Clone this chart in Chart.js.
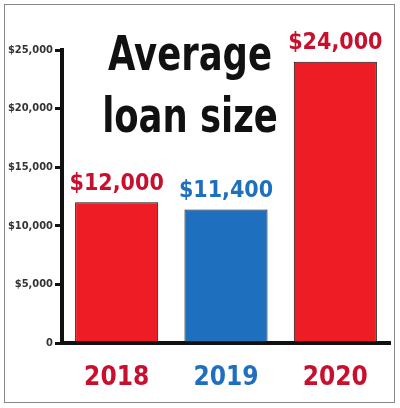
<!DOCTYPE html>
<html><head>
<script src="https://cdn.jsdelivr.net/npm/chart.js@4"></script>
<style>
body{margin:0;background:#fff}
#wrap{width:400px;height:408px;position:relative}
#frame{position:absolute;left:4px;top:4px;width:391px;height:399px;border:1px solid #888;box-sizing:border-box;pointer-events:none}
</style>
</head><body>
<div id="wrap"><canvas id="chart" width="400" height="408"></canvas><div id="frame"></div></div>
<script>
const years = ["2018", "2019", "2020"];
const loanSizes = [12000, 11400, 24000];
const barColors = ["#ee1c25", "#1f6fbf", "#ee1c25"];
const textColors = ["#c8102e", "#1f6fbf", "#c8102e"];
const tickValues = [0, 5000, 10000, 15000, 20000, 25000];

const font = "'DejaVu Sans Condensed', 'DejaVu Sans', sans-serif";

const labelPlugin = {
    id: "labels",
    afterDatasetsDraw(chart) {
        const ctx = chart.ctx;
        const meta = chart.getDatasetMeta(0);
        ctx.save();
        ctx.textAlign = "center";
        ctx.textBaseline = "bottom";
        ctx.font = "bold 23px " + font;
        meta.data.forEach((bar, i) => {
            ctx.fillStyle = textColors[i];
            ctx.fillText("$" + loanSizes[i].toLocaleString("en-US"), bar.x, bar.y - 7);
        });
        ctx.fillStyle = "#111";
        ctx.font = "bold 48px " + font;
        ctx.textBaseline = "middle";
        ctx.translate(190, 0);
        ctx.scale(0.82, 1);
        ctx.fillText("Average", 0, 58);
        ctx.fillText("loan size", 0, 120);
        ctx.restore();
    }
};

new Chart(document.getElementById("chart"), {
    type: "bar",
    data: {
        labels: years,
        datasets: [{
            data: loanSizes,
            backgroundColor: barColors,
            borderColor: "#111",
            borderWidth: 1,
            barPercentage: 0.76,
            categoryPercentage: 1
        }]
    },
    options: {
        responsive: false,
        animation: false,
        layout: { padding: { top: 50, right: 10, left: 0, bottom: 0 } },
        plugins: { legend: { display: false }, tooltip: { enabled: false } },
        scales: {
            y: {
                min: 0, max: 25000,
                afterBuildTicks: s => { s.ticks = tickValues.map(v => ({ value: v })); },
                afterFit: s => { s.width = 62; },
                grid: { drawOnChartArea: false, tickLength: 7, color: "#111", lineWidth: 3 },
                border: { color: "#111", width: 4 },
                ticks: {
                    color: "#333",
                    font: { family: font, size: 11, weight: "bold" },
                    padding: 2,
                    callback: v => v === 0 ? "0" : "$" + v.toLocaleString("en-US")
                }
            },
            x: {
                afterFit: s => { s.height = 65; },
                grid: { display: false },
                border: { color: "#111", width: 4 },
                ticks: {
                    color: textColors,
                    font: { family: font, size: 26, weight: "bold" },
                    padding: 12
                }
            }
        }
    },
    plugins: [labelPlugin]
});
</script>
</body></html>
